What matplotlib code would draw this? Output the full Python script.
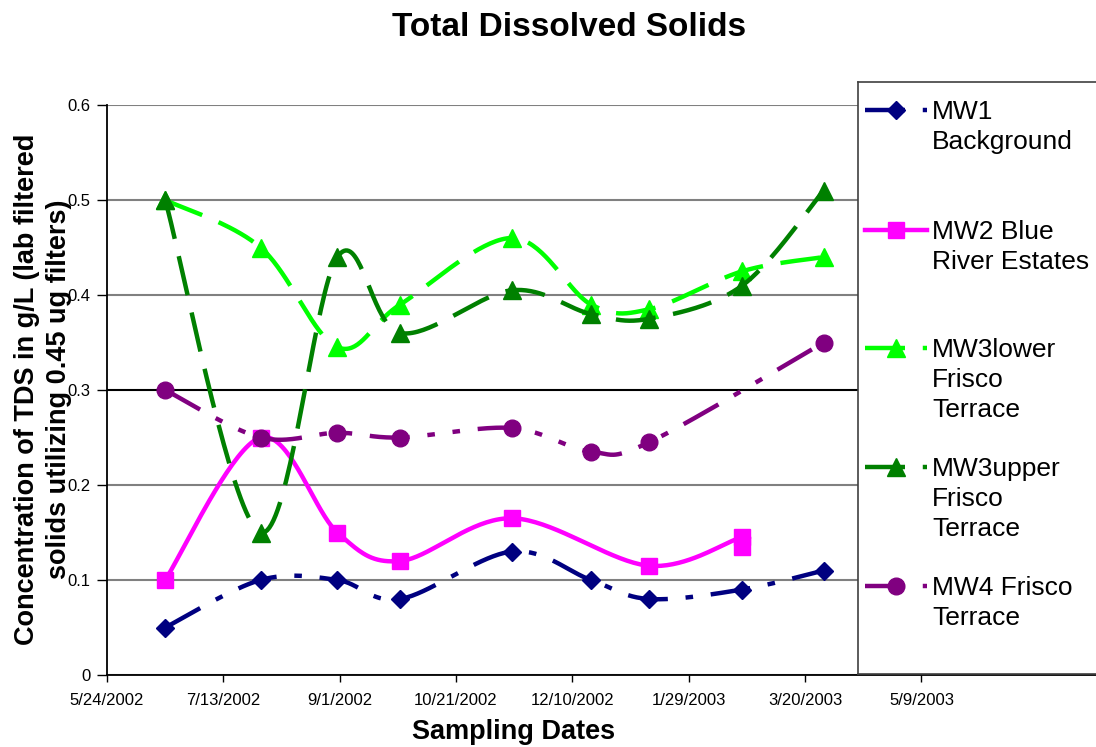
import numpy as np
import pandas as pd
import matplotlib
matplotlib.use('Agg')
import matplotlib.pyplot as plt
import matplotlib.dates as mdates

plt.rcParams['font.family'] = ['Liberation Sans', 'DejaVu Sans']

dates = ['2002-06-18', '2002-07-29', '2002-08-31', '2002-09-27', '2002-11-14',
         '2002-12-18', '2003-01-12', '2003-02-21', '2003-03-28']
mw2_dates = ['2002-06-18', '2002-07-29', '2002-08-31', '2002-09-27', '2002-11-14',
             '2003-01-12', '2003-02-21', '2003-02-21']

mw1 = [0.05, 0.10, 0.10, 0.08, 0.13, 0.10, 0.08, 0.09, 0.11]
mw2 = [0.10, 0.25, 0.15, 0.12, 0.165, 0.115, 0.145, 0.135]
mw3lower = [0.50, 0.45, 0.345, 0.39, 0.46, 0.39, 0.385, 0.425, 0.44]
mw3upper = [0.50, 0.15, 0.44, 0.36, 0.405, 0.38, 0.375, 0.41, 0.51]
mw4 = [0.30, 0.25, 0.255, 0.25, 0.26, 0.235, 0.245, np.nan, 0.35]

tick_labels = ['5/24/2002', '7/13/2002', '9/1/2002', '10/21/2002', '12/10/2002',
               '1/29/2003', '3/20/2003', '5/9/2003']
y_ticks = [0, 0.1, 0.2, 0.3, 0.4, 0.5, 0.6]

labels = ['MW1\nBackground', 'MW2 Blue\nRiver Estates', 'MW3lower\nFrisco\nTerrace',
          'MW3upper\nFrisco\nTerrace', 'MW4 Frisco\nTerrace']

W, H = 1096, 747
fig = plt.figure(figsize=(W / 100, H / 100), dpi=100)
ax = fig.add_axes([107 / W, (H - 675) / H, (W - 107) / W, (675 - 105) / H])

tick_pos = mdates.date2num(pd.to_datetime(tick_labels, format='%m/%d/%Y'))
x0 = tick_pos[0]
ax.set_xlim(x0, x0 + 425)
ax.set_ylim(0, 0.6)
ax.set_xticks(tick_pos)
ax.set_xticklabels(tick_labels, fontsize=12)
ax.set_yticks(y_ticks)
ax.set_yticklabels([f'{v:g}' for v in y_ticks], fontsize=12)
ax.tick_params(axis='x', length=5, width=1, pad=8)
ax.tick_params(axis='y', length=7, width=1, pad=5)
for s in ['top', 'right']:
    ax.spines[s].set_visible(False)
for s in ['left', 'bottom']:
    ax.spines[s].set_linewidth(1.3)
ax.grid(axis='y', color='#808080', lw=1.5)
ax.get_ygridlines()[3].set_color('black')
ax.set_axisbelow(True)


def smooth(xs, ys, n=40):
    # excel-like smoothed line, worked out in screen space
    pts = ax.transData.transform(np.column_stack([xs, ys]))
    out = [pts[0]]
    t = np.linspace(0, 1, n)[1:, None]
    for i in range(len(pts) - 1):
        p0 = pts[i - 1] if i > 0 else pts[i]
        p1, p2 = pts[i], pts[i + 1]
        p3 = pts[i + 2] if i + 2 < len(pts) else pts[i + 1]
        c1 = p1 + (p2 - p0) / 6
        c2 = p2 - (p3 - p1) / 6
        seg = (1 - t) ** 3 * p1 + 3 * (1 - t) ** 2 * t * c1 + 3 * (1 - t) * t ** 2 * c2 + t ** 3 * p2
        out.extend(seg)
    return ax.transData.inverted().transform(np.array(out))


d = mdates.date2num(pd.to_datetime(dates))
d2 = mdates.date2num(pd.to_datetime(mw2_dates))

series = [
    (d, mw1, '#000080', (0, (9, 4, 1.7, 4)), 'D', 9.5),
    (d2, mw2, '#FF00FF', '-', 's', 11.5),
    (d, mw3lower, '#00FF00', (0, (9, 4)), '^', 13),
    (d, mw3upper, '#008000', (0, (9, 4)), '^', 13),
    (d, mw4, '#800080', (0, (9, 4, 1.7, 4, 1.7, 4)), 'o', 12),
]

for xs, ys, col, ls, mk, ms in series:
    xs = np.asarray(xs)
    ys = np.asarray(ys, dtype=float)
    ok = ~np.isnan(ys)
    curve = smooth(xs[ok], ys[ok])
    ax.plot(curve[:, 0], curve[:, 1], color=col, lw=3.2, ls=ls, clip_on=False)
    ax.plot(xs[ok], ys[ok], ls='none', marker=mk, ms=ms, color=col, mec=col, clip_on=False)

fig.text(569 / W, 1 - 27 / H, 'Total Dissolved Solids', fontsize=24, fontweight='bold',
         ha='center', va='center')
fig.text(514 / W, 1 - 732 / H, 'Sampling Dates', fontsize=19.5, fontweight='bold',
         ha='center', va='center')
fig.text(43 / W, 1 - 389 / H, 'Concentration of TDS in g/L (lab filtered\nsolids utilizing 0.45 ug filters)',
         fontsize=19.5, fontweight='bold', rotation=90, ha='center', va='center',
         multialignment='center', linespacing=1.3)

# legend box drawn by hand so each entry lines up on its first text line
lx0, ly0, ly1 = 858, 82, 674
lax = fig.add_axes([lx0 / W, (H - ly1) / H, (W - lx0 + 5) / W, (ly1 - ly0) / H])
lax.set_xlim(0, W - lx0 + 5)
lax.set_ylim(ly1 - ly0, 0)
lax.set_xticks([])
lax.set_yticks([])
lax.set_facecolor('white')
for s in lax.spines.values():
    s.set_color('#404040')
    s.set_linewidth(1.2)

entry_y = [28, 148, 266, 385, 504]
for (xs, ys, col, ls, mk, ms), lab, ey in zip(series, labels, entry_y):
    lax.plot([7, 69], [ey, ey], color=col, lw=3.2, ls=ls)
    lax.plot([38], [ey], ls='none', marker=mk, ms=ms, color=col, mec=col)
    for k, line in enumerate(lab.split('\n')):
        lax.text(74, ey + 9 + 30 * k, line, fontsize=19, va='baseline', ha='left')

fig.savefig('out.png', dpi=100)
